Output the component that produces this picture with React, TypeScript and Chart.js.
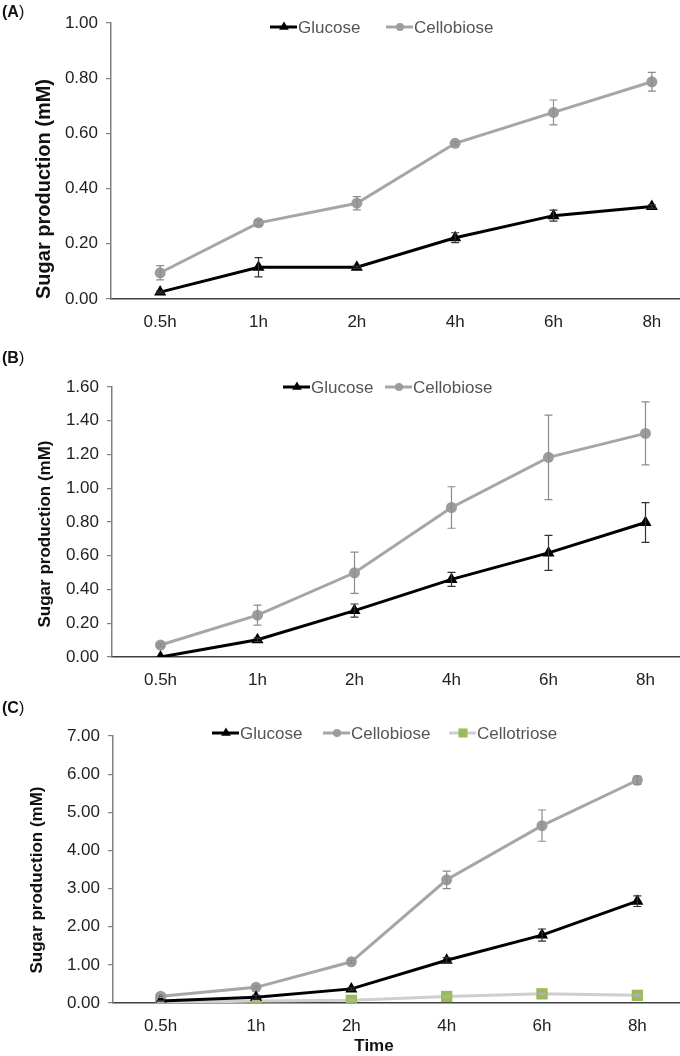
import React, { useEffect, useRef } from "react";
import { Chart, registerables } from "chart.js";

Chart.register(...registerables);

// ---------- data ----------
const timeLabels = ["0.5h", "1h", "2h", "4h", "6h", "8h"];

const aGlucose = [0.025, 0.115, 0.115, 0.222, 0.302, 0.335];
const aGlucoseErr = [0.004, 0.035, 0.004, 0.018, 0.02, 0.006];
const aCellobiose = [0.095, 0.276, 0.347, 0.564, 0.676, 0.787];
const aCellobioseErr = [0.026, 0.01, 0.024, 0.006, 0.045, 0.034];

const bGlucose = [0.0, 0.102, 0.275, 0.46, 0.617, 0.797];
const bGlucoseErr = [0.0, 0.01, 0.039, 0.041, 0.104, 0.118];
const bCellobiose = [0.071, 0.248, 0.499, 0.886, 1.183, 1.325];
const bCellobioseErr = [0.01, 0.059, 0.122, 0.123, 0.25, 0.187];

const cGlucose = [0.05, 0.15, 0.37, 1.12, 1.78, 2.67];
const cGlucoseErr = [0.01, 0.05, 0.03, 0.07, 0.16, 0.14];
const cCellobiose = [0.18, 0.41, 1.08, 3.23, 4.65, 5.84];
const cCellobioseErr = [0.03, 0.03, 0.04, 0.23, 0.41, 0.11];
const cCellotriose = [0.01, 0.05, 0.07, 0.17, 0.24, 0.2];
const cCellotrioseErr = [0.01, 0.01, 0.01, 0.02, 0.02, 0.02];

const aTicks = { max: 1.0, step: 0.2 };
const bTicks = { max: 1.6, step: 0.2 };
const cTicks = { max: 7.0, step: 1.0 };

const yTitle = "Sugar production (mM)";
const xTitle = "Time";

// ---------- styles ----------
const FONT = "'Liberation Sans', Arial, Helvetica, sans-serif";

const glucoseStyle = {
  label: "Glucose",
  borderColor: "#000000",
  pointBackgroundColor: "#000000",
  pointBorderColor: "#000000",
  pointStyle: "triangle",
  pointRadius: 7,
  errorColor: "#333333",
};
const cellobioseStyle = {
  label: "Cellobiose",
  borderColor: "#a6a6a6",
  pointBackgroundColor: "#9c9c9c",
  pointBorderColor: "#9c9c9c",
  pointStyle: "circle",
  pointRadius: 5.5,
  errorColor: "#8c8c8c",
};
const cellotrioseStyle = {
  label: "Cellotriose",
  borderColor: "#cfcfcf",
  pointBackgroundColor: "#9bbb59",
  pointBorderColor: "#9bbb59",
  pointStyle: "rect",
  pointRadius: 8,
  errorColor: "#b0b0b0",
};

// ---------- plugins ----------
const errorBarPlugin = {
  id: "errorBars",
  afterDatasetsDraw(chart: any) {
    const ctx = chart.ctx;
    const yScale = chart.scales.y;
    chart.data.datasets.forEach((ds: any, i: number) => {
      const errs: number[] = ds.errors;
      if (!errs) return;
      const meta = chart.getDatasetMeta(i);
      ctx.save();
      ctx.strokeStyle = ds.errorColor;
      ctx.lineWidth = 1.2;
      meta.data.forEach((pt: any, j: number) => {
        const v = ds.data[j];
        const e = errs[j];
        if (!e) return;
        const x = pt.x;
        const yt = yScale.getPixelForValue(v + e);
        const yb = yScale.getPixelForValue(Math.max(v - e, 0));
        ctx.beginPath();
        ctx.moveTo(x, yt);
        ctx.lineTo(x, yb);
        ctx.moveTo(x - 4, yt);
        ctx.lineTo(x + 4, yt);
        ctx.moveTo(x - 4, yb);
        ctx.lineTo(x + 4, yb);
        ctx.stroke();
      });
      ctx.restore();
    });
  },
};

function drawMarker(ctx: CanvasRenderingContext2D, style: string, x: number, y: number, r: number) {
  ctx.beginPath();
  if (style === "triangle") {
    ctx.moveTo(x, y - r);
    ctx.lineTo(x - r * 0.866, y + r * 0.5);
    ctx.lineTo(x + r * 0.866, y + r * 0.5);
    ctx.closePath();
  } else if (style === "rect") {
    const s = r / Math.SQRT2;
    ctx.rect(x - s, y - s, 2 * s, 2 * s);
  } else {
    ctx.arc(x, y, r, 0, Math.PI * 2);
  }
  ctx.fill();
}

const lineLegendPlugin = {
  id: "lineLegend",
  afterDraw(chart: any, _args: any, opts: any) {
    const ctx = chart.ctx;
    chart.data.datasets.forEach((ds: any, i: number) => {
      const x0 = opts.xs[i];
      const y0 = opts.y;
      ctx.save();
      ctx.strokeStyle = ds.borderColor;
      ctx.lineWidth = 3;
      ctx.beginPath();
      ctx.moveTo(x0, y0);
      ctx.lineTo(x0 + 27, y0);
      ctx.stroke();
      ctx.fillStyle = ds.pointBackgroundColor;
      drawMarker(ctx, ds.pointStyle, x0 + 14, y0, ds.pointStyle === "circle" ? 4 : ds.pointRadius * 0.8);
      ctx.fillStyle = "#555555";
      ctx.font = `17px ${FONT}`;
      ctx.textBaseline = "middle";
      ctx.textAlign = "left";
      ctx.fillText(ds.label, x0 + 28, y0 + 1);
      ctx.restore();
    });
  },
};

// ---------- chart ----------
type PanelProps = {
  top: number;
  height: number;
  series: { style: any; data: number[]; errors: number[] }[];
  ticks: { max: number; step: number };
  area: { left: number; right: number; top: number; bottom: number };
  legendXs: number[];
  legendY: number;
};

const CANVAS_W = 720;

function Panel({ top, height, series, ticks, area, legendXs, legendY }: PanelProps) {
  const ref = useRef<HTMLCanvasElement | null>(null);
  useEffect(() => {
    if (!ref.current) return;
    const chart = new Chart(ref.current, {
      type: "line",
      data: {
        labels: timeLabels,
        datasets: series.map((s) => ({
          ...s.style,
          data: s.data,
          errors: s.errors,
          borderWidth: 3,
          pointBorderWidth: 0,
          tension: 0,
          fill: false,
        })) as any,
      },
      options: {
        animation: false,
        responsive: false,
        devicePixelRatio: 1,
        layout: {
          padding: { left: 0, top: area.top, right: CANVAS_W - area.right, bottom: 0 },
        },
        plugins: {
          legend: { display: false },
          tooltip: { enabled: false },
          lineLegend: { xs: legendXs, y: legendY - top },
        } as any,
        scales: {
          x: {
            type: "category",
            offset: true,
            grid: { display: false, drawTicks: true, tickLength: 8 },
            border: { display: true, color: "#404040", width: 1.5 },
            ticks: { color: "#222222", font: { family: FONT, size: 17 }, padding: 5, maxRotation: 0 },
            afterFit: (s: any) => {
              s.height = height - (area.bottom - top);
            },
          },
          y: {
            min: 0,
            max: ticks.max,
            grid: { display: true, drawOnChartArea: false, drawTicks: true, tickLength: 5, color: "#808080", lineWidth: 1.2 },
            border: { display: true, color: "#808080", width: 1.5 },
            ticks: {
              stepSize: ticks.step,
              color: "#222222",
              font: { family: FONT, size: 17 },
              padding: 8,
              callback: (v: any) => Number(v).toFixed(2),
            },
            afterFit: (s: any) => {
              s.width = area.left;
            },
          },
        },
      } as any,
      plugins: [errorBarPlugin, lineLegendPlugin],
    });
    return () => chart.destroy();
  }, []);
  return (
    <canvas
      ref={ref}
      width={CANVAS_W}
      height={height}
      style={{ position: "absolute", left: 0, top, width: CANVAS_W, height }}
    />
  );
}

const panelLabelStyle: React.CSSProperties = {
  position: "absolute",
  left: 2,
  fontFamily: FONT,
  fontSize: 16,
  color: "#111",
  lineHeight: "18px",
};

function RotTitle({ cx, cy, size }: { cx: number; cy: number; size: number }) {
  return (
    <div
      style={{
        position: "absolute",
        left: cx,
        top: cy,
        transform: "translate(-50%, -50%) rotate(-90deg)",
        whiteSpace: "nowrap",
        fontFamily: FONT,
        fontWeight: "bold",
        fontSize: size,
        color: "#111",
      }}
    >
      {yTitle}
    </div>
  );
}

export default function App() {
  return (
    <div
      style={{
        position: "absolute",
        left: 0,
        top: 0,
        width: 680,
        height: 1056,
        overflow: "hidden",
        background: "#ffffff",
      }}
    >
      <Panel
        top={0}
        height={340}
        series={[
          { style: glucoseStyle, data: aGlucose, errors: aGlucoseErr },
          { style: cellobioseStyle, data: aCellobiose, errors: aCellobioseErr },
        ]}
        ticks={aTicks}
        area={{ left: 111, right: 701, top: 23, bottom: 299 }}
        legendXs={[270, 386]}
        legendY={27}
      />
      <Panel
        top={340}
        height={360}
        series={[
          { style: glucoseStyle, data: bGlucose, errors: bGlucoseErr },
          { style: cellobioseStyle, data: bCellobiose, errors: bCellobioseErr },
        ]}
        ticks={bTicks}
        area={{ left: 112, right: 694, top: 387 - 340, bottom: 657 }}
        legendXs={[283, 385]}
        legendY={387}
      />
      <Panel
        top={700}
        height={356}
        series={[
          { style: glucoseStyle, data: cGlucose, errors: cGlucoseErr },
          { style: cellobioseStyle, data: cCellobiose, errors: cCellobioseErr },
          { style: cellotrioseStyle, data: cCellotriose, errors: cCellotrioseErr },
        ]}
        ticks={cTicks}
        area={{ left: 113, right: 685, top: 736 - 700, bottom: 1003 }}
        legendXs={[212, 323, 449]}
        legendY={733}
      />

      <div style={{ ...panelLabelStyle, top: 3 }}>
        <b>(A</b>)
      </div>
      <div style={{ ...panelLabelStyle, top: 349 }}>
        <b>(B</b>)
      </div>
      <div style={{ ...panelLabelStyle, top: 699 }}>
        <b>(C</b>)
      </div>

      <RotTitle cx={43} cy={189} size={20} />
      <RotTitle cx={45} cy={534} size={17} />
      <RotTitle cx={37} cy={880} size={17} />

      <div
        style={{
          position: "absolute",
          left: 374,
          top: 1046,
          transform: "translate(-50%, -50%)",
          fontFamily: FONT,
          fontWeight: "bold",
          fontSize: 17,
          color: "#111",
          whiteSpace: "nowrap",
        }}
      >
        {xTitle}
      </div>
    </div>
  );
}
